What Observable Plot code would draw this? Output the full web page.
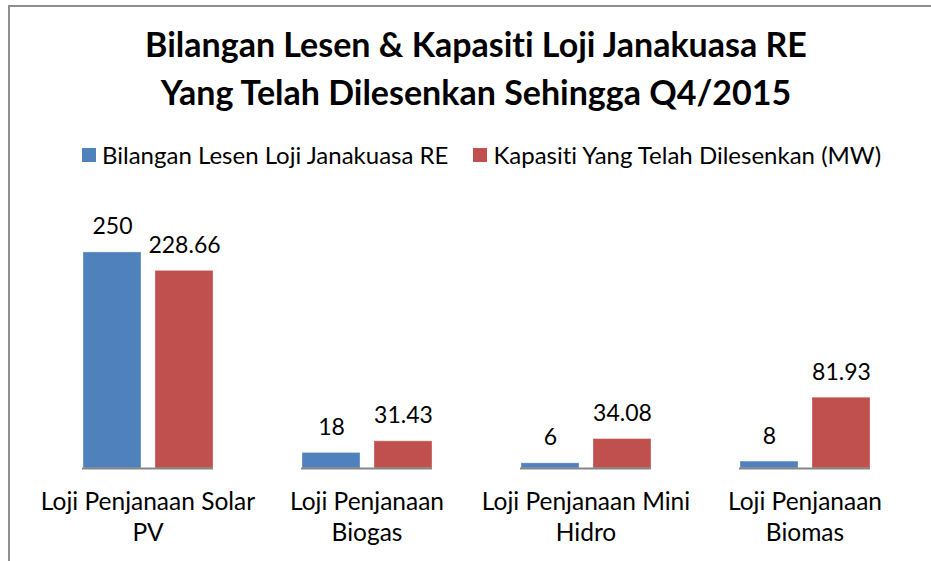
<!DOCTYPE html>
<html>
<head>
<meta charset="utf-8">
<script src="https://cdn.jsdelivr.net/npm/d3@7"></script>
<script src="https://cdn.jsdelivr.net/npm/@observablehq/plot@0.6"></script>
<style>
  html, body { margin: 0; padding: 0; background: #fff; }
  body { width: 931px; height: 561px; overflow: hidden; position: relative; font-family: Lato, "Open Sans", sans-serif; color: #000; font-variant-ligatures: none; }
  svg text { font-variant-ligatures: none; }
  #frame { position: absolute; left: 8px; top: 5px; width: 2000px; height: 2000px; border-left: 2px solid #8f8f8f; border-top: 2px solid #8f8f8f; }
  #title { position: absolute; left: 0; top: 20px; width: 952px; text-align: center; font-weight: bold; font-size: 34px; line-height: 48px; }
  #legend { position: absolute; left: 82px; top: 139px; display: flex; align-items: center; font-size: 24px; line-height: 32px; white-space: nowrap; }
  .sw { width: 14px; height: 14px; display: inline-block; margin-right: 6px; }
  #chart { position: absolute; left: 0; top: 190px; }
</style>
</head>
<body>
<div id="frame"></div>
<div id="title"></div>
<div id="legend"></div>
<div id="chart"></div>
<script>
const titleLines = ["Bilangan Lesen & Kapasiti Loji Janakuasa RE", "Yang Telah Dilesenkan Sehingga Q4/2015"];
const categories = ["Loji Penjanaan Solar\nPV", "Loji Penjanaan\nBiogas", "Loji Penjanaan Mini\nHidro", "Loji Penjanaan\nBiomas"];
const seriesNames = ["Bilangan Lesen Loji Janakuasa RE", "Kapasiti Yang Telah Dilesenkan (MW)"];
const seriesColors = ["#4F81BD", "#C0504D"];
const licences = [250, 18, 6, 8];
const capacity = [228.66, 31.43, 34.08, 81.93];
const valueLabels = [["250", "18", "6", "8"], ["228.66", "31.43", "34.08", "81.93"]];

const data = [];
categories.forEach((c, i) => {
  data.push({category: c, series: seriesNames[0], value: licences[i], label: valueLabels[0][i]});
  data.push({category: c, series: seriesNames[1], value: capacity[i], label: valueLabels[1][i]});
});

document.getElementById("title").innerHTML = titleLines.map(t => `<div>${t.replace("&", "&amp;")}</div>`).join("");
const legend = document.getElementById("legend");
seriesNames.forEach((s, i) => {
  const item = document.createElement("span");
  item.style.display = "inline-flex";
  item.style.alignItems = "center";
  item.style.marginRight = i === 0 ? "25px" : "0";
  item.innerHTML = `<span class="sw" style="background:${seriesColors[i]}"></span><span>${s}</span>`;
  legend.appendChild(item);
});

const chart = Plot.plot({
  width: 931,
  height: 371,
  marginLeft: 37,
  marginRight: 15,
  marginTop: 36,
  marginBottom: 93,
  style: {fontFamily: "Lato, 'Open Sans', sans-serif", fontSize: "23px", color: "#000", background: "transparent"},
  fx: {domain: categories, paddingInner: 0.4, paddingOuter: 0.2, axis: null, label: null},
  x: {domain: seriesNames, paddingInner: 0.2, paddingOuter: 0, axis: null, label: null},
  y: {domain: [0, 280], axis: null},
  color: {domain: seriesNames, range: seriesColors},
  marks: [
    Plot.barY(data, {fx: "category", x: "series", y: "value", fill: "series", stroke: "#ffffff", strokeOpacity: 0.35, strokeWidth: 1}),
    Plot.ruleY([0], {stroke: "#868686", strokeWidth: 2}),
    Plot.text(data, {fx: "category", x: "series", y: "value", text: "label", lineAnchor: "bottom", dy: -18, fill: "#000", fontSize: 23}),
    Plot.text(categories, {fx: d => d, text: d => d, frameAnchor: "bottom", lineAnchor: "top", dy: 19, lineHeight: 1.27, fill: "#000", fontSize: 24.5})
  ]
});
document.getElementById("chart").appendChild(chart);
</script>
</body>
</html>
